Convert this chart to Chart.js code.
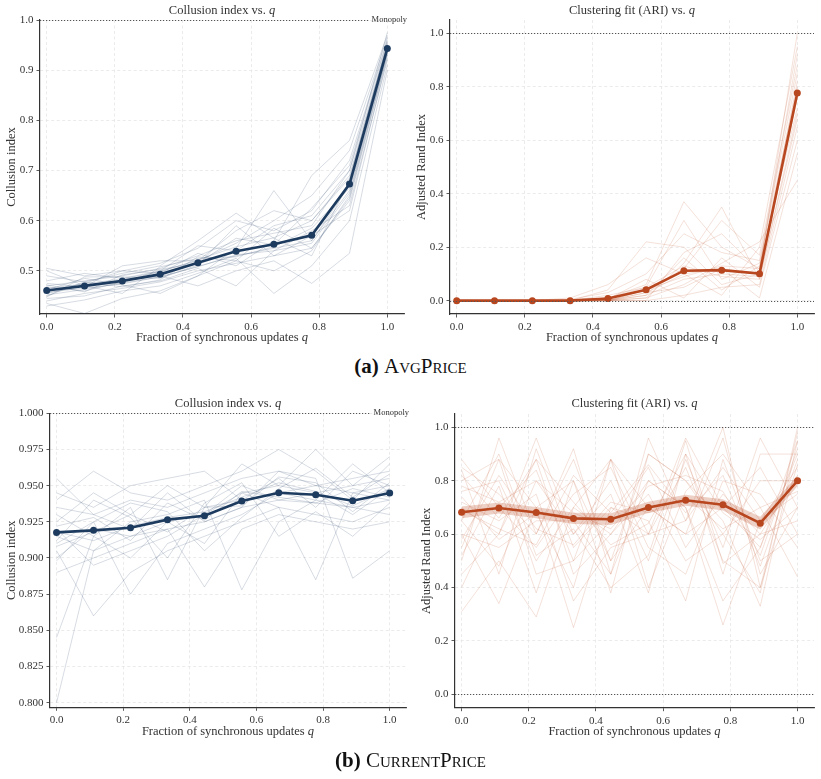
<!DOCTYPE html>
<html>
<head>
<meta charset="utf-8">
<script src="https://cdn.jsdelivr.net/npm/chart.js@4.4.1/dist/chart.umd.min.js"></script>
<style>
  body { margin: 0; background: #fff; width: 821px; height: 779px; position: relative; overflow: hidden; font-family: "Liberation Serif", serif; }
  canvas { position: absolute; }
  .cap { position: absolute; left: 0; width: 821px; text-align: center; font-size: 21px; color: #111; }
  .cap b { font-weight: bold; }
  .sc { font-variant: small-caps; }
</style>
</head>
<body>
<canvas id="a1" width="410" height="350" style="left:0;top:0;width:410px;height:350px"></canvas>
<canvas id="a2" width="411" height="350" style="left:410px;top:0;width:411px;height:350px"></canvas>
<div class="cap" style="top:354px"><b>(a)</b> <span class="sc">AvgPrice</span></div>
<canvas id="b1" width="410" height="389" style="left:0;top:390px;width:410px;height:389px"></canvas>
<canvas id="b2" width="411" height="389" style="left:410px;top:390px;width:411px;height:389px"></canvas>
<div class="cap" style="top:748px"><b>(b)</b> <span class="sc">CurrentPrice</span></div>

<script>
// q values (fraction of synchronous updates)
const qValues = [0, 0.111, 0.222, 0.333, 0.444, 0.556, 0.667, 0.778, 0.889, 1.0];
const xTicks = [0, 0.2, 0.4, 0.6, 0.8, 1.0];

// (a) AvgPrice - collusion index
const avgCollusionMean = [0.461, 0.470, 0.480, 0.493, 0.516, 0.539, 0.553, 0.571, 0.673, 0.943];
const avgCollusionRuns = [
  [0.452, 0.463, 0.476, 0.488, 0.509, 0.530, 0.545, 0.560, 0.660, 0.940],
  [0.470, 0.480, 0.490, 0.505, 0.530, 0.560, 0.575, 0.590, 0.700, 0.950],
  [0.440, 0.455, 0.465, 0.478, 0.500, 0.515, 0.530, 0.545, 0.640, 0.930],
  [0.505, 0.490, 0.500, 0.515, 0.545, 0.600, 0.580, 0.620, 0.720, 0.960],
  [0.435, 0.415, 0.445, 0.460, 0.490, 0.520, 0.500, 0.540, 0.650, 0.935],
  [0.480, 0.495, 0.485, 0.500, 0.520, 0.580, 0.620, 0.600, 0.690, 0.945],
  [0.458, 0.475, 0.500, 0.495, 0.535, 0.510, 0.560, 0.690, 0.760, 0.970],
  [0.445, 0.450, 0.470, 0.480, 0.505, 0.470, 0.540, 0.580, 0.630, 0.920],
  [0.490, 0.478, 0.495, 0.510, 0.560, 0.615, 0.565, 0.530, 0.680, 0.955],
  [0.462, 0.485, 0.472, 0.455, 0.490, 0.545, 0.660, 0.560, 0.670, 0.940],
  [0.430, 0.442, 0.460, 0.470, 0.495, 0.525, 0.455, 0.510, 0.600, 0.910],
  [0.475, 0.468, 0.510, 0.520, 0.520, 0.555, 0.600, 0.650, 0.740, 0.965],
  [0.455, 0.472, 0.480, 0.490, 0.470, 0.500, 0.520, 0.475, 0.535, 0.900],
  [0.468, 0.460, 0.478, 0.500, 0.550, 0.540, 0.590, 0.610, 0.700, 0.975],
  [0.448, 0.488, 0.488, 0.485, 0.512, 0.590, 0.530, 0.570, 0.620, 0.925],
  [0.500, 0.470, 0.455, 0.508, 0.525, 0.528, 0.548, 0.585, 0.665, 0.948],
  [0.465, 0.474, 0.484, 0.498, 0.522, 0.548, 0.566, 0.600, 0.685, 0.952],
  [0.457, 0.466, 0.474, 0.488, 0.508, 0.532, 0.540, 0.555, 0.655, 0.938],
  [0.472, 0.458, 0.492, 0.503, 0.515, 0.565, 0.552, 0.625, 0.710, 0.958],
  [0.450, 0.478, 0.468, 0.482, 0.528, 0.520, 0.585, 0.545, 0.645, 0.932]
];
const avgCollusionTicks = [0.5, 0.6, 0.7, 0.8, 0.9, 1.0];

// (a) AvgPrice - ARI
const avgAriMean = [0, 0, 0, 0, 0.008, 0.041, 0.112, 0.114, 0.101, 0.777];
const avgAriRuns = [
  [0, 0, 0, 0, 0.000, 0.020, 0.080, 0.100, 0.090, 0.760],
  [0, 0, 0, 0.005, 0.030, 0.100, 0.250, 0.180, 0.150, 0.850],
  [0, 0, 0, 0, 0.000, 0.000, 0.020, 0.050, 0.060, 0.650],
  [0, 0, 0, 0, 0.010, 0.060, 0.370, 0.200, 0.120, 0.920],
  [0, 0, 0, 0, 0.000, 0.010, 0.140, 0.350, 0.080, 0.700],
  [0, 0, 0, 0.010, 0.060, 0.160, 0.100, 0.020, 0.200, 0.950],
  [0, 0, 0, 0, 0.000, 0.030, 0.050, 0.120, 0.010, 0.550],
  [0, 0, 0, 0, 0.020, 0.050, 0.300, 0.080, 0.140, 0.800],
  [0, 0, 0, 0, 0.000, 0.000, 0.180, 0.250, 0.110, 1.000],
  [0, 0, 0, 0, 0.005, 0.080, 0.010, 0.160, 0.050, 0.600],
  [0, 0, 0, 0, 0.000, 0.040, 0.120, 0.300, 0.170, 0.880],
  [0, 0, 0, 0, 0.040, 0.220, 0.200, 0.060, 0.100, 0.780],
  [0, 0, 0, 0, 0.000, 0.010, 0.060, 0.140, 0.220, 0.450],
  [0, 0, 0, 0, 0.000, 0.020, 0.160, 0.040, 0.130, 0.720],
  [0, 0, 0, 0, 0.000, 0.030, 0.100, 0.120, 0.100, 0.820],
  [0, 0, 0, 0, 0.010, 0.050, 0.130, 0.090, 0.080, 0.680],
  [0, 0, 0, 0, 0.000, 0.040, 0.090, 0.130, 0.120, 0.760]
];
const ariTicks = [0, 0.2, 0.4, 0.6, 0.8, 1.0];

// (b) CurrentPrice - collusion index
const curCollusionMean = [0.9177, 0.9191, 0.9209, 0.9265, 0.9292, 0.9394, 0.9451, 0.9437, 0.9396, 0.9449];
const curCollusionRuns = [
  [0.800, 0.905, 0.915, 0.920, 0.925, 0.935, 0.940, 0.938, 0.935, 0.940],
  [0.845, 0.915, 0.900, 0.925, 0.930, 0.945, 0.950, 0.945, 0.930, 0.948],
  [0.955, 0.930, 0.940, 0.935, 0.945, 0.955, 0.960, 0.950, 0.955, 0.960],
  [0.905, 0.860, 0.890, 0.905, 0.915, 0.925, 0.935, 0.930, 0.925, 0.935],
  [0.925, 0.945, 0.930, 0.950, 0.935, 0.965, 0.950, 0.975, 0.950, 0.955],
  [0.910, 0.925, 0.875, 0.910, 0.920, 0.930, 0.945, 0.950, 0.945, 0.940],
  [0.930, 0.915, 0.935, 0.885, 0.935, 0.940, 0.955, 0.935, 0.960, 0.950],
  [0.890, 0.900, 0.910, 0.920, 0.880, 0.920, 0.930, 0.925, 0.920, 0.925],
  [0.940, 0.960, 0.945, 0.940, 0.950, 0.960, 0.975, 0.960, 0.940, 0.965],
  [0.915, 0.905, 0.925, 0.930, 0.940, 0.878, 0.925, 0.940, 0.935, 0.930],
  [0.900, 0.920, 0.915, 0.925, 0.910, 0.945, 0.935, 0.885, 0.945, 0.950],
  [0.935, 0.930, 0.920, 0.945, 0.925, 0.935, 0.960, 0.955, 0.886, 0.905],
  [0.920, 0.895, 0.905, 0.915, 0.930, 0.950, 0.940, 0.945, 0.950, 0.970],
  [0.945, 0.935, 0.950, 0.955, 0.960, 0.940, 0.945, 0.940, 0.965, 0.945],
  [0.912, 0.940, 0.928, 0.900, 0.938, 0.952, 0.915, 0.932, 0.915, 0.938],
  [0.898, 0.925, 0.938, 0.932, 0.905, 0.928, 0.948, 0.962, 0.942, 0.958],
  [0.918, 0.912, 0.922, 0.928, 0.932, 0.942, 0.952, 0.946, 0.936, 0.948],
  [0.922, 0.928, 0.912, 0.938, 0.926, 0.946, 0.942, 0.938, 0.948, 0.942],
  [0.908, 0.918, 0.930, 0.918, 0.935, 0.936, 0.956, 0.952, 0.932, 0.952]
];
const curCollusionTicks = [0.800, 0.825, 0.850, 0.875, 0.900, 0.925, 0.950, 0.975, 1.000];

// (b) CurrentPrice - ARI
const curAriMean = [0.682, 0.698, 0.681, 0.659, 0.656, 0.700, 0.727, 0.710, 0.641, 0.800];
const curAriLow = [0.660, 0.677, 0.660, 0.638, 0.634, 0.679, 0.706, 0.689, 0.617, 0.780];
const curAriHigh = [0.704, 0.719, 0.702, 0.680, 0.678, 0.721, 0.748, 0.731, 0.665, 0.820];
const curAriRuns = [
  [0.880, 0.700, 0.840, 0.500, 0.880, 0.600, 0.960, 0.700, 0.550, 0.900],
  [0.500, 0.960, 0.600, 0.920, 0.450, 0.960, 0.650, 1.000, 0.400, 0.980],
  [0.700, 0.600, 0.960, 0.600, 0.800, 0.500, 0.880, 0.550, 0.960, 0.700],
  [0.310, 0.500, 0.290, 0.700, 0.600, 0.800, 0.700, 0.260, 0.650, 0.850],
  [0.800, 0.880, 0.700, 0.250, 0.700, 0.650, 0.350, 0.880, 0.500, 0.600],
  [0.600, 0.340, 0.700, 0.800, 0.380, 0.900, 0.800, 0.650, 0.330, 0.950],
  [0.760, 0.800, 0.500, 0.700, 0.880, 0.400, 0.760, 0.900, 0.700, 0.440],
  [0.450, 0.600, 0.880, 0.450, 0.600, 0.750, 0.500, 0.600, 0.800, 0.800],
  [0.850, 0.750, 0.600, 0.880, 0.500, 0.700, 0.600, 0.960, 0.450, 0.700],
  [0.650, 0.480, 0.800, 0.600, 0.750, 0.380, 0.900, 0.450, 0.900, 0.900],
  [0.550, 0.880, 0.450, 0.500, 0.650, 0.850, 0.550, 0.750, 0.600, 0.650],
  [0.720, 0.650, 0.750, 0.350, 0.550, 0.600, 0.850, 0.500, 0.400, 0.860],
  [0.400, 0.700, 0.550, 0.750, 0.850, 0.550, 0.450, 0.800, 0.750, 0.550],
  [0.600, 0.550, 0.650, 0.650, 0.450, 0.800, 0.700, 0.350, 0.550, 0.950],
  [0.840, 0.450, 0.920, 0.550, 0.700, 0.600, 0.650, 0.850, 0.650, 0.750],
  [0.520, 0.780, 0.380, 0.800, 0.500, 0.900, 0.800, 0.600, 0.380, 1.000],
  [0.740, 0.580, 0.680, 0.400, 0.880, 0.700, 0.600, 0.700, 0.850, 0.600],
  [0.650, 0.900, 0.520, 0.620, 0.400, 0.520, 0.950, 0.490, 0.600, 0.820],
  [0.780, 0.720, 0.800, 0.680, 0.620, 0.780, 0.820, 0.760, 0.520, 0.920],
  [0.580, 0.820, 0.620, 0.560, 0.720, 0.680, 0.740, 0.620, 0.700, 0.760],
  [0.690, 0.620, 0.560, 0.820, 0.680, 0.860, 0.680, 0.820, 0.480, 0.880],
  [0.820, 0.660, 0.880, 0.720, 0.560, 0.640, 0.900, 0.680, 0.580, 0.700]
];

const NAVY = '#1d3b5f';
const NAVY_FAINT = 'rgba(40,70,105,0.24)';
const RUST = '#b8461f';
const RUST_FAINT = 'rgba(195,95,60,0.24)';
const SERIF = '"Liberation Serif", "DejaVu Serif", serif';

const pts = arr => arr.map((v, i) => ({ x: qValues[i], y: v }));

// titles, axis labels (with italic q) and dotted reference lines
const decor = {
  id: 'decor',
  afterDraw(chart, args, o) {
    const { ctx, chartArea: a, scales } = chart;
    const mixed = (parts, x, y) => {
      let w = 0;
      parts.forEach(p => { ctx.font = p[1]; w += ctx.measureText(p[0]).width; });
      let cx = x - w / 2;
      parts.forEach(p => { ctx.font = p[1]; ctx.fillText(p[0], cx, y); cx += ctx.measureText(p[0]).width; });
    };
    ctx.save();
    ctx.fillStyle = '#333';
    ctx.textBaseline = 'middle';
    ctx.textAlign = 'left';
    const cx = (a.left + a.right) / 2;
    mixed([[o.title + ' vs. ', '12.5px ' + SERIF], ['q', 'italic 12.5px ' + SERIF]], cx, a.top - o.titleGap);
    mixed([['Fraction of synchronous updates ', '12.5px ' + SERIF], ['q', 'italic 12.5px ' + SERIF]], cx, a.bottom + 24);

    ctx.save();
    ctx.translate(o.yLabelX, (a.top + a.bottom) / 2);
    ctx.rotate(-Math.PI / 2);
    ctx.textAlign = 'center';
    ctx.font = '12.5px ' + SERIF;
    ctx.fillText(o.yLabel, 0, 0);
    ctx.restore();

    ctx.strokeStyle = '#555';
    ctx.lineWidth = 1;
    ctx.setLineDash([1.2, 1.8]);
    o.refLines.forEach(v => {
      const y = Math.round(scales.y.getPixelForValue(v)) + 0.5;
      let end = a.right;
      if (o.refLabel) {
        ctx.font = '8.5px ' + SERIF;
        const w = ctx.measureText(o.refLabel).width;
        end = a.right + 3 - w - 3;
        ctx.textAlign = 'right';
        ctx.fillText(o.refLabel, a.right + 3, y - 0.5);
      }
      ctx.beginPath();
      ctx.moveTo(a.left, y);
      ctx.lineTo(end, y);
      ctx.stroke();
    });
    ctx.restore();
  }
};

function panel(id, cfg) {
  const datasets = [{
    data: pts(cfg.mean), borderColor: cfg.color, backgroundColor: cfg.color,
    borderWidth: 2.6, pointRadius: 3.5, pointBorderWidth: 0, order: 0
  }];
  if (cfg.low) {
    datasets.push({ data: pts(cfg.low), borderWidth: 0, pointRadius: 0, order: 1 });
    datasets.push({ data: pts(cfg.high), borderWidth: 0, pointRadius: 0, fill: '-1',
      backgroundColor: 'rgba(190,85,50,0.28)', order: 1 });
  }
  cfg.runs.forEach(r => datasets.push({
    data: pts(r), borderColor: cfg.faint, borderWidth: 0.8, pointRadius: 0, order: 2
  }));

  const axis = (ticks, fmt, fit) => ({
    type: 'linear',
    afterBuildTicks: s => { s.ticks = ticks.map(v => ({ value: v })); },
    afterFit: fit,
    grid: { color: '#e6e6e6', lineWidth: 0.8, tickColor: '#333', tickLength: 3.5, tickWidth: 0.8, tickBorderDash: [] },
    border: { color: '#333', width: 1.2, dash: [3, 2.5] },
    ticks: { color: '#333', font: { family: SERIF, size: 11 }, padding: 3, callback: v => v.toFixed(fmt) }
  });

  const x = axis(xTicks, 1, s => { s.height = cfg.xHeight; });
  x.min = -0.0197; x.max = 1.049;
  const y = axis(cfg.yTicks, cfg.yFmt, s => { s.width = cfg.yWidth; });
  y.min = cfg.yMin; y.max = cfg.yMax;

  new Chart(document.getElementById(id), {
    type: 'line',
    data: { datasets },
    options: {
      responsive: false,
      animation: false,
      layout: { padding: { top: cfg.top, right: cfg.right, left: 0, bottom: 0 } },
      elements: { line: { tension: 0 } },
      scales: { x, y },
      plugins: {
        legend: { display: false },
        tooltip: { enabled: false },
        decor: cfg.decor
      }
    },
    plugins: [decor]
  });
}

panel('a1', {
  mean: avgCollusionMean, runs: avgCollusionRuns, color: NAVY, faint: NAVY_FAINT,
  yTicks: avgCollusionTicks, yFmt: 1, yMin: 0.414, yMax: 1.0,
  yWidth: 40, xHeight: 36, top: 20, right: 6,
  decor: { title: 'Collusion index', titleGap: 9, yLabel: 'Collusion index', yLabelX: 12, refLines: [1.0], refLabel: 'Monopoly' }
});
panel('a2', {
  mean: avgAriMean, runs: avgAriRuns, color: RUST, faint: RUST_FAINT,
  yTicks: ariTicks, yFmt: 1, yMin: -0.05, yMax: 1.05,
  yWidth: 40, xHeight: 36, top: 20, right: 7,
  decor: { title: 'Clustering fit (ARI)', titleGap: 9, yLabel: 'Adjusted Rand Index', yLabelX: 12, refLines: [0, 1.0] }
});
panel('b1', {
  mean: curCollusionMean, runs: curCollusionRuns, color: NAVY, faint: NAVY_FAINT,
  yTicks: curCollusionTicks, yFmt: 3, yMin: 0.7968, yMax: 1.0,
  yWidth: 50, xHeight: 71.7, top: 23.3, right: 1,
  decor: { title: 'Collusion index', titleGap: 9.5, yLabel: 'Collusion index', yLabelX: 12, refLines: [1.0], refLabel: 'Monopoly' }
});
panel('b2', {
  mean: curAriMean, low: curAriLow, high: curAriHigh, runs: curAriRuns, color: RUST, faint: RUST_FAINT,
  yTicks: ariTicks, yFmt: 1, yMin: -0.05, yMax: 1.05,
  yWidth: 45, xHeight: 71.3, top: 24, right: 7,
  decor: { title: 'Clustering fit (ARI)', titleGap: 10, yLabel: 'Adjusted Rand Index', yLabelX: 17, refLines: [0, 1.0] }
});
</script>
</body>
</html>
